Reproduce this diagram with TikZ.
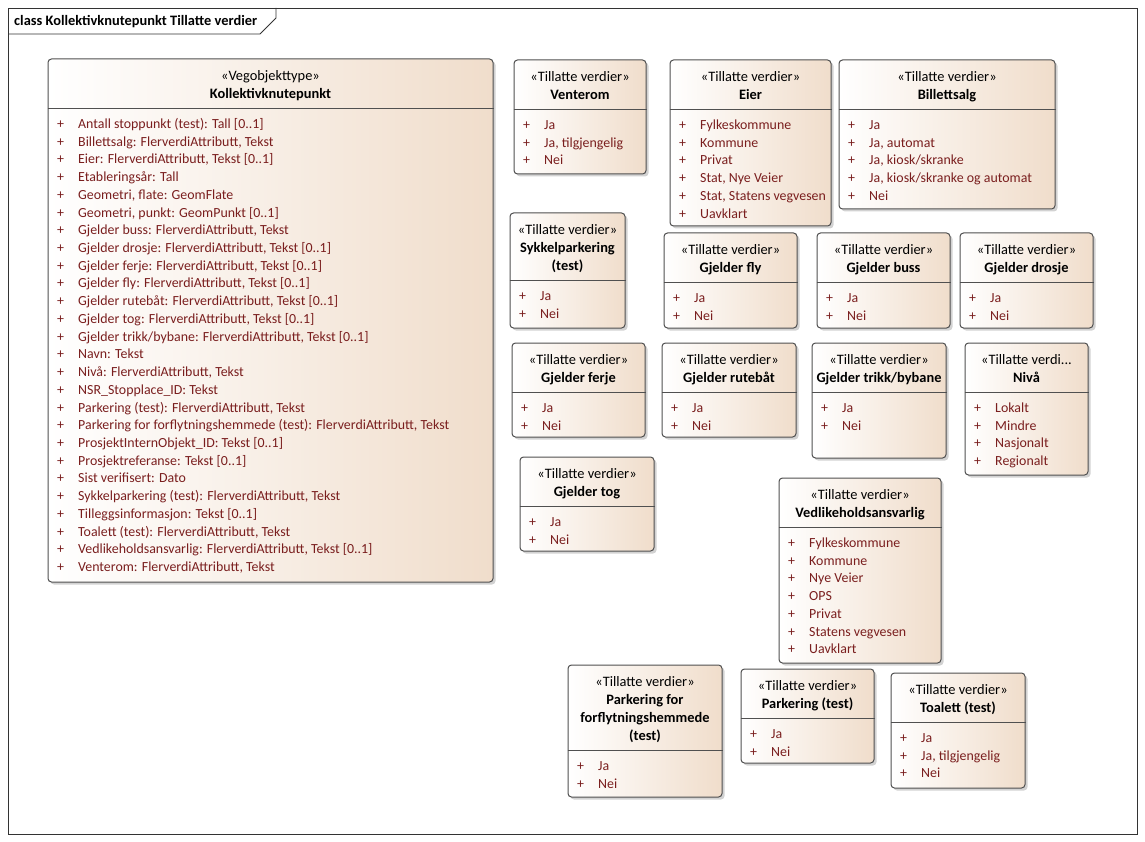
\documentclass[tikz,border=0pt]{standalone}
\usepackage{fontspec}
\setmainfont{Carlito}
\usetikzlibrary{shadows}
\definecolor{beige}{RGB}{240,221,203}
\definecolor{attr}{RGB}{122,30,30}
\definecolor{edge}{RGB}{80,80,80}
\tikzset{
  umlbox/.style={draw=edge, line width=1pt, rounded corners=3.5pt, left color=white, right color=beige, inner sep=0pt,
    drop shadow={shadow xshift=2.5pt, shadow yshift=-2.5pt, fill=black!35, opacity=0.5}},
  divline/.style={draw=edge, line width=0.9pt},
  stereo/.style={anchor=base, inner sep=0pt, font=\fontsize{14.4}{16}\selectfont},
  cname/.style={anchor=base, inner sep=0pt, font=\fontsize{14.4}{16}\selectfont\bfseries},
  attrtxt/.style={anchor=base west, inner sep=0pt, text=attr, font=\fontsize{13.9}{16}\selectfont},
  plus/.style={attrtxt},
  frameline/.style={draw=black!80, line width=0.9pt},
}
\newcommand{\uclass}[9]{%
  \node[umlbox, minimum width={#4-#2}, minimum height={#5-#3}] (#1) at ({(#2+#4)/2},{(#3+#5)/2}) {};
  \draw[divline] (#1.west |- 0,{#3+49+18*#6}) -- (#1.east |- 0,{#3+49+18*#6});
  \node[stereo] (#1-st) at ({(#2+#4)/2},{#3+21.5}) {#7};
  \foreach \nm [count=\k from 0] in {#8} \node[cname] (#1-n\k) at ({(#2+#4)/2},{#3+39.5+18*\k}) {\nm};
  \foreach \itm [count=\k from 0] in {#9} {
    \node[plus] (#1-p\k) at ({#2+9},{#3+69.5+18*#6+17.72*\k}) {+};
    \node[attrtxt] (#1-a\k) at ({#2+30},{#3+69.5+18*#6+17.72*\k}) {\itm};
  }
}
\begin{document}
\begin{tikzpicture}[x=1pt,y=-1pt]
\useasboundingbox (0,0) rectangle (1145,842);
\fill[white] (0,0) rectangle (1145,842);
% frame
\draw[frameline] (8,8) rectangle (1137,834);
\draw[frameline] (8,34) -- (260,34) -- (276,18) -- (276,8);
\node[anchor=base west, inner sep=0pt, font=\fontsize{14.4}{16}\selectfont\bfseries] (title) at (14,26) {class Kollektivknutepunkt Tillatte verdier};

\uclass{main}{48}{59}{493}{582}{0}{«Vegobjekttype»}{Kollektivknutepunkt}{%
  {Antall stoppunkt (test): Tall [0..1]},
  {Billettsalg: FlerverdiAttributt, Tekst},
  {Eier: FlerverdiAttributt, Tekst [0..1]},
  {Etableringsår: Tall},
  {Geometri, flate: GeomFlate},
  {Geometri, punkt: GeomPunkt [0..1]},
  {Gjelder buss: FlerverdiAttributt, Tekst},
  {Gjelder drosje: FlerverdiAttributt, Tekst [0..1]},
  {Gjelder ferje: FlerverdiAttributt, Tekst [0..1]},
  {Gjelder fly: FlerverdiAttributt, Tekst [0..1]},
  {Gjelder rutebåt: FlerverdiAttributt, Tekst [0..1]},
  {Gjelder tog: FlerverdiAttributt, Tekst [0..1]},
  {Gjelder trikk/bybane: FlerverdiAttributt, Tekst [0..1]},
  {Navn: Tekst},
  {Nivå: FlerverdiAttributt, Tekst},
  {NSR\_Stopplace\_ID: Tekst},
  {Parkering (test): FlerverdiAttributt, Tekst},
  {Parkering for forflytningshemmede (test): FlerverdiAttributt, Tekst},
  {ProsjektInternObjekt\_ID: Tekst [0..1]},
  {Prosjektreferanse: Tekst [0..1]},
  {Sist verifisert: Dato},
  {Sykkelparkering (test): FlerverdiAttributt, Tekst},
  {Tilleggsinformasjon: Tekst [0..1]},
  {Toalett (test): FlerverdiAttributt, Tekst},
  {Vedlikeholdsansvarlig: FlerverdiAttributt, Tekst [0..1]},
  {Venterom: FlerverdiAttributt, Tekst}}

\uclass{venterom}{514}{60}{646}{174}{0}{«Tillatte verdier»}{Venterom}{Ja,{Ja, tilgjengelig},Nei}
\uclass{eier}{670}{60}{831}{226}{0}{«Tillatte verdier»}{Eier}{Fylkeskommune,Kommune,Privat,{Stat, Nye Veier},{Stat, Statens vegvesen},Uavklart}
\uclass{billett}{839}{60}{1055}{209}{0}{«Tillatte verdier»}{Billettsalg}{Ja,{Ja, automat},{Ja, kiosk/skranke},{Ja, kiosk/skranke og automat},Nei}
\uclass{sykkel}{510}{213}{625}{328}{1}{«Tillatte verdier»}{Sykkelparkering,(test)}{Ja,Nei}
\uclass{fly}{664}{233}{797}{328}{0}{«Tillatte verdier»}{Gjelder fly}{Ja,Nei}
\uclass{buss}{817}{233}{950}{328}{0}{«Tillatte verdier»}{Gjelder buss}{Ja,Nei}
\uclass{drosje}{960}{233}{1093}{328}{0}{«Tillatte verdier»}{Gjelder drosje}{Ja,Nei}
\uclass{ferje}{512}{343}{645}{437}{0}{«Tillatte verdier»}{Gjelder ferje}{Ja,Nei}
\uclass{rutebat}{662}{343}{796}{437}{0}{«Tillatte verdier»}{Gjelder rutebåt}{Ja,Nei}
\uclass{trikk}{812}{343}{946}{458}{0}{«Tillatte verdier»}{Gjelder trikk/bybane}{Ja,Nei}
\uclass{niva}{965}{343}{1088}{475}{0}{«Tillatte verdi...}{Nivå}{Lokalt,Mindre,Nasjonalt,Regionalt}
\uclass{tog}{520}{457}{654}{551}{0}{«Tillatte verdier»}{Gjelder tog}{Ja,Nei}
\uclass{vedlik}{779}{478}{941}{663}{0}{«Tillatte verdier»}{Vedlikeholdsansvarlig}{Fylkeskommune,Kommune,Nye Veier,OPS,Privat,Statens vegvesen,Uavklart}
\uclass{parkforfl}{568}{665}{722}{797}{2}{«Tillatte verdier»}{Parkering for,forflytningshemmede,(test)}{Ja,Nei}
\uclass{parktest}{741}{669}{874}{763}{0}{«Tillatte verdier»}{Parkering (test)}{Ja,Nei}
\uclass{toalett}{891}{673}{1025}{788}{0}{«Tillatte verdier»}{Toalett (test)}{Ja,{Ja, tilgjengelig},Nei}
\end{tikzpicture}
\end{document}
